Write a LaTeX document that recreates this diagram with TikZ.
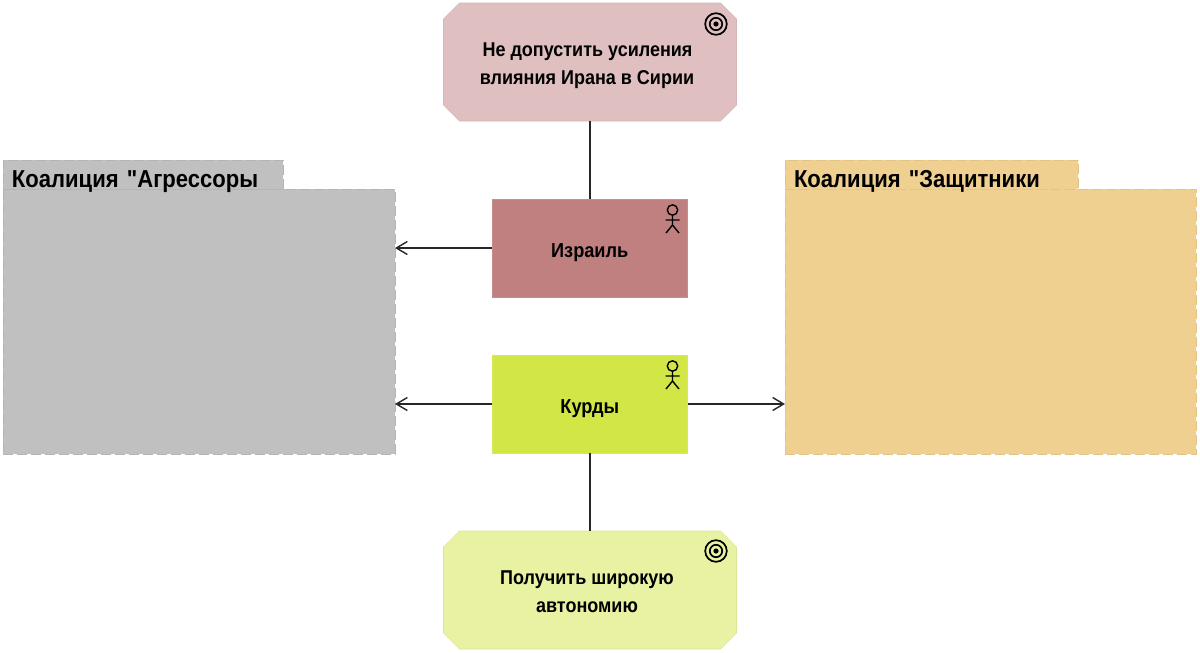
\documentclass[tikz,border=0pt]{standalone}
\usepackage{fontspec}
\setmainfont{Liberation Sans}[FakeStretch=0.9,Ligatures=TeXOff]
\usetikzlibrary{arrows.meta,shapes.misc}
\definecolor{goalred}{HTML}{E0BFC0}
\definecolor{actorred}{HTML}{C08080}
\definecolor{actorgreen}{HTML}{D2E645}
\definecolor{goalgreen}{HTML}{E8F2A2}
\definecolor{grayfill}{HTML}{C0C0C0}
\definecolor{sandfill}{HTML}{F0D090}
\newcommand{\lowertext}[1]{\rule{0pt}{#1}}
\tikzset{
  goalbox/.style={chamfered rectangle,chamfered rectangle xsep=8pt,chamfered rectangle ysep=8pt,
    minimum width=293pt,minimum height=118pt,inner sep=0pt,outer sep=0pt,align=center,
    font=\fontsize{20}{28}\selectfont\bfseries,draw=#1!95!black,fill=#1,line width=.6pt},
  actorbox/.style={rectangle,minimum width=195.5pt,minimum height=98pt,inner sep=0pt,outer sep=0pt,
    text height=22pt,text depth=4pt,
    font=\fontsize{20.2}{28}\selectfont\bfseries,draw=#1!90!white,fill=#1,line width=.6pt},
  bodybox/.style={rectangle,inner sep=0pt,outer sep=0pt,draw=#1!94!black,fill=#1,dash pattern=on 10pt off 4pt,line width=.8pt},
  tabbox/.style={rectangle,inner xsep=9pt,inner ysep=0pt,outer sep=0pt,
    text height=27pt,text depth=2pt,
    font=\fontsize{24.5}{28}\selectfont\bfseries,draw=#1!94!black,fill=#1,dash pattern=on 10pt off 4pt,line width=.8pt},
  link/.style={line width=1.6pt,black!85},
  linkto/.style={link,-{Straight Barb[length=11pt,width=13pt,line width=1.4pt]}},
  actor/.pic={
    \draw[line width=1.4pt] (0,-38) circle (5.2);
    \draw[line width=1.4pt] (0,-33) -- (0,-23) -- (-6.5,-15) (0,-23) -- (6.5,-15) (-7,-28) -- (7,-28);
  },
  target/.pic={
    \draw[line width=1.7pt] (0,0) circle (10.8);
    \draw[line width=1.7pt] (0,0) circle (6.2);
    \fill (0,0) circle (2.6);
  }
}
\begin{document}
\begin{tikzpicture}[x=1pt,y=-1pt]
  \useasboundingbox (0,0) rectangle (1200,653);
  \node[goalbox=goalred](goalIran)at(590,62){\lowertext{22pt}Не допустить усиления\hspace*{5pt}\\влияния Ирана в Сирии\hspace*{6pt}};
  \node[actorbox=actorred](israel)at(589.75,248){Израиль};
  \node[actorbox=actorgreen](kurds)at(589.75,404){Курды};
  \node[goalbox=goalgreen](goalAuto)at(590,590){\lowertext{16.5pt}Получить широкую\hspace*{6pt}\\автономию\hspace*{6pt}};
  \node[bodybox=grayfill,minimum width=392pt,minimum height=265pt](aggrBody)at(199,321.5){};
  \node[tabbox=grayfill,anchor=south west,text width=262pt](aggrTab)at(3,189){Коалиция "Агрессоры};
  \node[bodybox=sandfill,minimum width=411pt,minimum height=265pt](defBody)at(990.5,321.5){};
  \node[tabbox=sandfill,anchor=south west,text width=275pt](defTab)at(785,189){Коалиция "Защитники};
  \draw[link](goalIran.south)--(israel.north-|goalIran.south);
  \draw[link](kurds.south-|goalAuto.north)--(goalAuto.north);
  \draw[linkto](israel.west)--(israel.west-|aggrBody.east);
  \draw[linkto](kurds.west)--(kurds.west-|aggrBody.east);
  \draw[linkto](kurds.east)--(kurds.east-|defBody.west);
  \pic at(672.5,248){actor};
  \pic at(672.5,404){actor};
  \pic at(716,24){target};
  \pic at(716,551){target};
\end{tikzpicture}
\end{document}
